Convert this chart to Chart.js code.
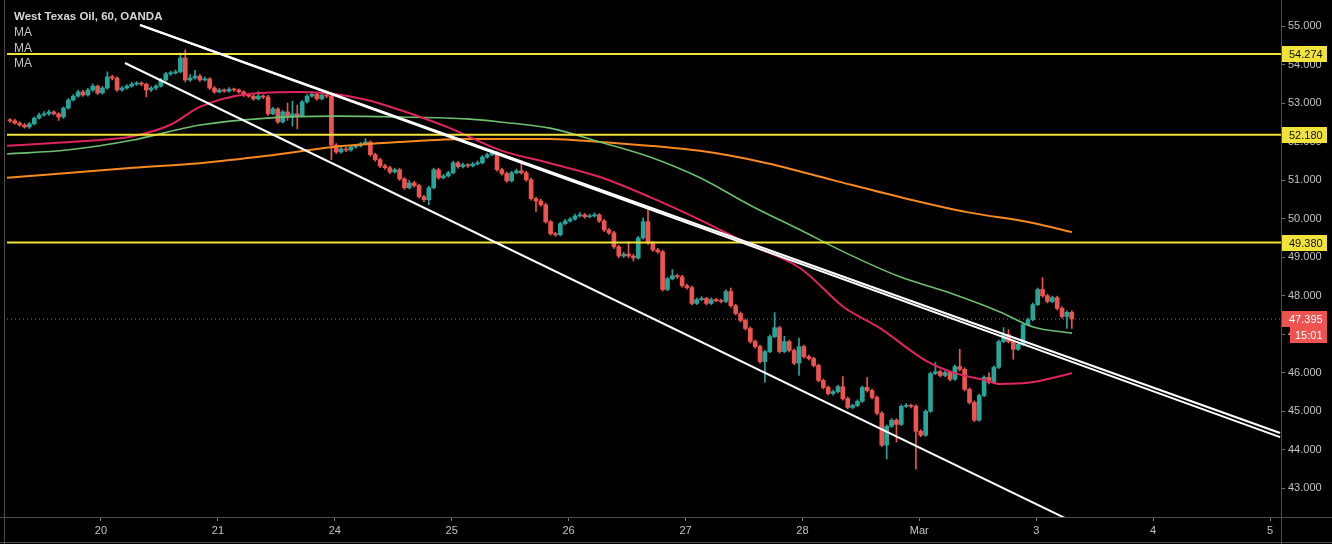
<!DOCTYPE html>
<html><head><meta charset="utf-8">
<script src="https://cdn.jsdelivr.net/npm/chart.js@4.4.1/dist/chart.umd.min.js"></script>
<style>html,body{margin:0;padding:0;background:#000;overflow:hidden}canvas{display:block}</style>
</head><body>
<canvas id="c" width="1332" height="544"></canvas>
<script>
// ---------- DATA ----------
const chartTitle = 'West Texas Oil, 60, OANDA';
const maLegendLabels = ['MA', 'MA', 'MA'];
const dayLabels = ['20', '21', '24', '25', '26', '27', '28', 'Mar', '3', '4', '5'];
const firstCandleDay = -0.779;   // first hourly candle, in days from the "20" tick
const candleStepDay = 1 / 24;    // one hour

const opens = [
52.56,52.54,52.48,52.43,52.38,52.46,52.61,52.69,52.72,52.77,
52.72,52.64,52.87,53.08,53.18,53.29,53.21,53.34,53.44,53.26,
53.39,53.68,53.65,53.34,53.39,53.44,53.49,53.52,53.49,53.34,
53.39,53.44,53.60,53.76,53.78,53.81,54.17,53.60,53.65,53.70,
53.60,53.63,53.39,53.29,53.34,53.31,53.36,53.34,53.29,53.21,
53.18,53.11,53.18,53.16,52.72,52.85,52.51,52.77,52.64,52.72,
52.67,53.03,53.18,53.23,53.11,53.21,53.18,51.91,51.73,51.81,
51.78,51.86,51.89,51.94,51.99,51.66,51.53,51.37,51.32,51.21,
51.27,51.03,50.80,50.93,50.86,50.57,50.49,50.80,51.27,51.06,
51.11,51.19,51.45,51.35,51.40,51.37,51.42,51.45,51.60,51.66,
51.71,51.27,51.17,50.98,51.19,51.24,51.19,51.01,50.52,50.46,
50.36,49.92,49.61,49.58,49.87,49.94,49.99,50.07,50.10,50.05,
50.07,50.10,49.94,49.71,49.63,49.27,49.03,49.08,49.03,48.98,
49.50,49.92,49.37,49.19,49.14,48.16,48.44,48.52,48.49,48.26,
48.21,47.80,47.90,47.93,47.80,47.90,47.87,47.85,48.11,47.74,
47.54,47.36,47.15,46.81,46.68,46.29,46.55,46.94,47.17,46.55,
46.81,46.58,46.25,46.68,46.42,46.37,46.19,45.80,45.62,45.46,
45.51,45.64,45.33,45.10,45.15,45.26,45.62,45.54,45.36,44.95,
44.12,44.61,44.77,44.66,45.13,45.15,45.13,44.48,44.38,45.00,
45.98,46.03,45.93,46.01,45.83,46.16,46.09,45.57,45.23,44.77,
45.41,45.88,45.75,46.14,46.81,46.99,46.81,46.61,46.74,47.25,
47.38,47.77,48.16,48.00,47.85,47.95,47.67,47.46,47.57];

const highs = [
52.60,52.58,52.52,52.47,52.50,52.64,52.74,52.78,52.82,52.80,
52.75,52.90,53.12,53.22,53.34,53.33,53.38,53.50,53.47,53.43,
53.81,53.72,53.68,53.43,53.48,53.54,53.56,53.55,53.52,53.43,
53.48,53.64,53.80,53.83,53.86,54.30,54.38,53.74,53.85,53.74,
53.68,53.66,53.43,53.38,53.37,53.40,53.39,53.37,53.32,53.25,
53.22,53.30,53.21,53.20,52.89,52.88,52.81,53.00,53.05,52.95,
53.07,53.22,53.30,53.26,53.26,53.30,53.22,51.95,51.86,51.85,
51.90,51.93,51.98,52.08,52.02,51.70,51.57,51.41,51.36,51.31,
51.31,51.07,51.00,50.97,50.90,50.61,50.84,51.31,51.31,51.15,
51.23,51.49,51.48,51.44,51.43,51.46,51.50,51.64,51.70,51.78,
51.74,51.31,51.21,51.23,51.29,51.50,51.23,51.05,50.56,50.50,
50.40,49.96,49.65,49.91,49.98,50.03,50.12,50.16,50.14,50.12,
50.15,50.13,49.98,49.75,49.67,49.31,49.13,49.40,49.08,49.54,
50.02,50.23,49.41,49.23,49.18,48.48,48.68,48.56,48.53,48.30,
48.25,47.94,47.98,47.96,47.94,47.93,47.91,48.15,48.20,47.78,
47.58,47.40,47.19,46.85,46.72,46.59,46.98,47.56,47.21,46.95,
46.85,46.62,46.90,46.72,46.46,46.41,46.23,45.84,45.66,45.55,
45.68,45.90,45.37,45.19,45.30,45.66,45.88,45.58,45.40,44.99,
44.65,44.81,44.81,45.17,45.20,45.19,45.17,44.52,45.04,46.02,
46.27,46.07,46.05,46.05,46.20,46.61,46.13,45.61,45.27,45.45,
45.92,46.00,46.18,46.85,47.17,47.12,46.85,46.78,47.29,47.42,
47.81,48.20,48.47,48.04,47.99,47.99,47.71,47.61,47.61];

const lows = [
52.50,52.45,52.40,52.35,52.34,52.43,52.58,52.66,52.68,52.69,
52.55,52.60,52.84,53.05,53.15,53.17,53.18,53.30,53.22,53.23,
53.36,53.60,53.30,53.31,53.36,53.41,53.46,53.45,53.16,53.30,
53.35,53.41,53.57,53.72,53.75,53.78,53.55,53.56,53.62,53.56,
53.57,53.35,53.25,53.26,53.28,53.28,53.30,53.26,53.17,53.15,
53.07,53.08,53.12,52.68,52.69,52.47,52.48,52.55,52.40,52.33,
52.64,53.00,53.15,53.07,53.08,53.14,51.53,51.69,51.70,51.74,
51.75,51.83,51.86,51.91,51.62,51.49,51.33,51.28,51.17,51.18,
50.99,50.76,50.77,50.82,50.53,50.44,50.36,50.77,51.02,51.03,
51.08,51.16,51.31,51.32,51.33,51.34,51.39,51.42,51.57,51.63,
51.23,51.13,50.94,50.95,51.16,51.15,50.97,50.48,50.18,50.32,
49.88,49.57,49.54,49.55,49.84,49.91,49.96,50.04,50.01,50.02,
50.04,49.90,49.67,49.59,49.23,48.99,48.99,48.99,48.90,48.95,
49.47,49.33,49.15,49.10,48.12,48.13,48.41,48.45,48.22,48.17,
47.76,47.77,47.87,47.76,47.77,47.84,47.81,47.82,47.70,47.50,
47.32,47.11,46.77,46.64,46.25,45.75,46.52,46.91,46.51,46.52,
46.54,46.21,45.93,46.38,46.33,46.15,45.76,45.58,45.42,45.42,
45.48,45.29,45.06,45.07,45.12,45.23,45.50,45.32,44.91,44.08,
43.76,44.58,44.20,44.63,45.10,45.09,43.50,44.34,44.35,44.97,
45.95,45.89,45.90,45.79,45.80,46.05,45.53,45.19,44.73,44.74,
45.38,45.71,45.72,46.11,46.78,46.77,46.35,46.58,46.71,47.22,
47.35,47.74,47.96,47.81,47.82,47.63,47.42,47.15,47.15];

const closes = [
52.54,52.48,52.43,52.38,52.46,52.61,52.69,52.72,52.77,52.72,
52.64,52.87,53.08,53.18,53.29,53.21,53.34,53.44,53.26,53.39,
53.68,53.65,53.34,53.39,53.44,53.49,53.52,53.49,53.34,53.39,
53.44,53.60,53.76,53.78,53.81,54.17,53.60,53.65,53.70,53.60,
53.63,53.39,53.29,53.34,53.31,53.36,53.34,53.29,53.21,53.18,
53.11,53.18,53.16,52.72,52.85,52.51,52.77,52.64,52.72,52.67,
53.03,53.18,53.23,53.11,53.21,53.18,51.91,51.73,51.81,51.78,
51.86,51.89,51.94,51.99,51.66,51.53,51.37,51.32,51.21,51.27,
51.03,50.80,50.93,50.86,50.57,50.49,50.80,51.27,51.06,51.11,
51.19,51.45,51.35,51.40,51.37,51.42,51.45,51.60,51.66,51.71,
51.27,51.17,50.98,51.19,51.24,51.19,51.01,50.52,50.46,50.36,
49.92,49.61,49.58,49.87,49.94,49.99,50.07,50.10,50.05,50.07,
50.10,49.94,49.71,49.63,49.27,49.03,49.08,49.03,48.98,49.50,
49.92,49.37,49.19,49.14,48.16,48.44,48.52,48.49,48.26,48.21,
47.80,47.90,47.93,47.80,47.90,47.87,47.85,48.11,47.74,47.54,
47.36,47.15,46.81,46.68,46.29,46.55,46.94,47.17,46.55,46.81,
46.58,46.25,46.68,46.42,46.37,46.19,45.80,45.62,45.46,45.51,
45.64,45.33,45.10,45.15,45.26,45.62,45.54,45.36,44.95,44.12,
44.61,44.77,44.66,45.13,45.15,45.13,44.48,44.38,45.00,45.98,
46.03,45.93,46.01,45.83,46.16,46.09,45.57,45.23,44.77,45.41,
45.88,45.75,46.14,46.81,46.99,46.81,46.61,46.74,47.25,47.38,
47.77,48.16,48.00,47.85,47.95,47.67,47.46,47.57,47.395];

// moving averages (day offset, price)
const maPinkDays   = [-0.804,-0.436,-0.009,0.274,0.590,0.847,1.275,1.702,1.985,2.275,2.558,2.985,3.413,3.841,4.269,4.696,5.124,5.552,5.979,6.364,6.647,7.074,7.305,7.562,7.690,7.930,8.306];
const maPinkValues = [51.89,51.96,52.04,52.14,52.43,52.90,53.24,53.29,53.24,53.08,52.82,52.35,51.78,51.44,51.08,50.56,49.97,49.32,48.72,47.68,47.19,46.28,45.99,45.81,45.71,45.74,45.99];
const maGreenDays   = [-0.804,-0.291,0.274,0.560,0.847,1.420,1.985,2.558,3.131,3.413,3.841,4.269,4.696,5.124,5.552,5.979,6.407,6.835,7.263,7.690,7.973,8.306];
const maGreenValues = [51.68,51.78,52.04,52.24,52.43,52.61,52.66,52.64,52.59,52.51,52.35,51.99,51.60,51.06,50.35,49.71,49.06,48.49,48.07,47.58,47.19,47.03];
const maOrangeDays   = [-0.804,0.274,0.847,1.420,1.985,2.558,3.131,3.841,4.269,5.124,5.697,6.262,6.835,7.408,7.973,8.306];
const maOrangeValues = [51.06,51.32,51.44,51.63,51.86,51.99,52.07,52.07,51.99,51.76,51.44,51.00,50.56,50.17,49.89,49.65];

// drawn trend lines (day offset, price)
const trendUpperDays = [0.334, 10.086];
const trendUpperA = [55.026, 44.437];
const trendUpperB = [55.026, 44.330];
const trendLowerDays = [0.205, 8.546];
const trendLower = [54.04, 41.79];

const levelPrices = [54.274, 52.180, 49.380];
const lastPrice = 47.395;
const countdownLabel = '15:01';

// ---------- STYLE ----------
const UP = '#26a69a', DOWN = '#ef5350';
const LEVEL_COLOR = '#f2e33a';
const X_MIN = -0.804, X_MAX = 10.094, Y_MIN = 42.257, Y_MAX = 55.675;
const FONT = '"Liberation Sans", Arial, sans-serif';

const tOf = i => firstCandleDay + i * candleStepDay;
const candleColors = closes.map((c, i) => c >= opens[i] ? UP : DOWN);
const pts = (xs, ys) => xs.map((x, i) => ({ x, y: ys[i] }));

const lineDs = (data, color, width, order, extra) => Object.assign({
  type: 'line', data, borderColor: color, borderWidth: width, pointRadius: 0,
  fill: false, tension: 0, order
}, extra || {});

const datasets = [
  lineDs(pts(trendUpperDays, trendUpperA), '#ffffff', 2.2, 0),
  lineDs(pts(trendUpperDays, trendUpperB), '#ffffff', 2, 0),
  lineDs(pts(trendLowerDays, trendLower), '#ffffff', 2, 0),
  ...levelPrices.map(v => lineDs(pts([X_MIN, X_MAX], [v, v]), LEVEL_COLOR, 2, 1)),
  lineDs(pts([X_MIN, X_MAX], [lastPrice, lastPrice]), DOWN, 1, 1, { borderDash: [1, 3] }),
  lineDs(pts(maPinkDays, maPinkValues), '#e0245f', 2, 2, { cubicInterpolationMode: 'monotone' }),
  lineDs(pts(maGreenDays, maGreenValues), '#6cbf6c', 1.6, 2, { cubicInterpolationMode: 'monotone' }),
  lineDs(pts(maOrangeDays, maOrangeValues), '#f7891f', 2, 2, { cubicInterpolationMode: 'monotone' }),
  {
    type: 'bar', order: 3, grouped: false, barThickness: 4, minBarLength: 1,
    data: opens.map((o, i) => ({ x: tOf(i), y: [o, closes[i]] })),
    backgroundColor: candleColors, borderWidth: 0
  },
  {
    type: 'bar', order: 4, grouped: false, barThickness: 1,
    data: highs.map((h, i) => ({ x: tOf(i), y: [lows[i], h] })),
    backgroundColor: candleColors, borderWidth: 0
  }
];

const overlay = {
  id: 'overlay',
  afterDraw(chart) {
    const ctx = chart.ctx, ys = chart.scales.y, a = chart.chartArea;
    ctx.save();
    // frame / axis lines
    ctx.strokeStyle = '#4d4d4d'; ctx.lineWidth = 1;
    ctx.beginPath();
    ctx.moveTo(0, a.bottom + 0.5); ctx.lineTo(chart.width, a.bottom + 0.5);
    ctx.moveTo(a.right + 0.5, 0); ctx.lineTo(a.right + 0.5, chart.height);
    ctx.moveTo(0, 542.5); ctx.lineTo(chart.width, 542.5);
    ctx.moveTo(4.5, 0); ctx.lineTo(4.5, chart.height);
    ctx.stroke();
    // level labels
    ctx.font = '11px ' + FONT; ctx.textBaseline = 'middle'; ctx.textAlign = 'left';
    levelPrices.forEach(v => {
      const py = Math.round(ys.getPixelForValue(v));
      ctx.fillStyle = LEVEL_COLOR; ctx.fillRect(a.right + 1, py - 8, 45, 16);
      ctx.fillStyle = '#111'; ctx.fillText(v.toFixed(3), a.right + 8, py + 1);
    });
    const lp = Math.round(ys.getPixelForValue(lastPrice));
    ctx.fillStyle = DOWN; ctx.fillRect(a.right + 1, lp - 8, 45, 16);
    ctx.fillStyle = '#fff'; ctx.fillText(lastPrice.toFixed(3), a.right + 8, lp + 1);
    ctx.fillStyle = DOWN; ctx.fillRect(a.right + 9, lp + 8, 37, 16);
    ctx.fillStyle = '#fff'; ctx.fillText(countdownLabel, a.right + 14, lp + 17);
    // legend text
    ctx.textBaseline = 'middle';
    ctx.font = 'bold 11.5px ' + FONT; ctx.fillStyle = '#d8d8d8';
    ctx.fillText(chartTitle, 14, 17);
    ctx.font = '12px ' + FONT; ctx.fillStyle = '#c4c4c4';
    maLegendLabels.forEach((t, i) => ctx.fillText(t, 14, 32.5 + i * 15.8));
    ctx.restore();
  }
};

new Chart(document.getElementById('c'), {
  type: 'bar',
  data: { datasets },
  plugins: [overlay],
  options: {
    responsive: false, animation: false, devicePixelRatio: 1,
    layout: { padding: { left: 7, top: 0, right: 0, bottom: 0 } },
    plugins: { legend: { display: false }, tooltip: { enabled: false }, title: { display: false } },
    scales: {
      x: {
        type: 'linear', min: X_MIN, max: X_MAX, offset: false,
        afterFit: s => { s.height = 27; s.paddingLeft = 0; s.paddingRight = 0; },
        grid: { drawOnChartArea: false, drawTicks: true, tickLength: 4, color: '#777', offset: false },
        border: { display: false },
        ticks: {
          stepSize: 1, includeBounds: false, autoSkip: false, maxRotation: 0, padding: 3,
          color: '#c2c2c2', font: { family: FONT, size: 11 },
          callback: v => (Number.isInteger(v) && dayLabels[v] !== undefined) ? dayLabels[v] : ''
        }
      },
      y: {
        type: 'linear', position: 'right', min: Y_MIN, max: Y_MAX,
        afterFit: s => { s.width = 51; s.paddingTop = 0; s.paddingBottom = 0; },
        grid: { drawOnChartArea: false, drawTicks: true, tickLength: 4, color: '#777' },
        border: { display: false },
        ticks: {
          stepSize: 1, includeBounds: false, padding: 3,
          color: '#c2c2c2', font: { family: FONT, size: 11 },
          callback: v => Number(v).toFixed(3)
        }
      }
    }
  }
});
</script>
</body></html>
